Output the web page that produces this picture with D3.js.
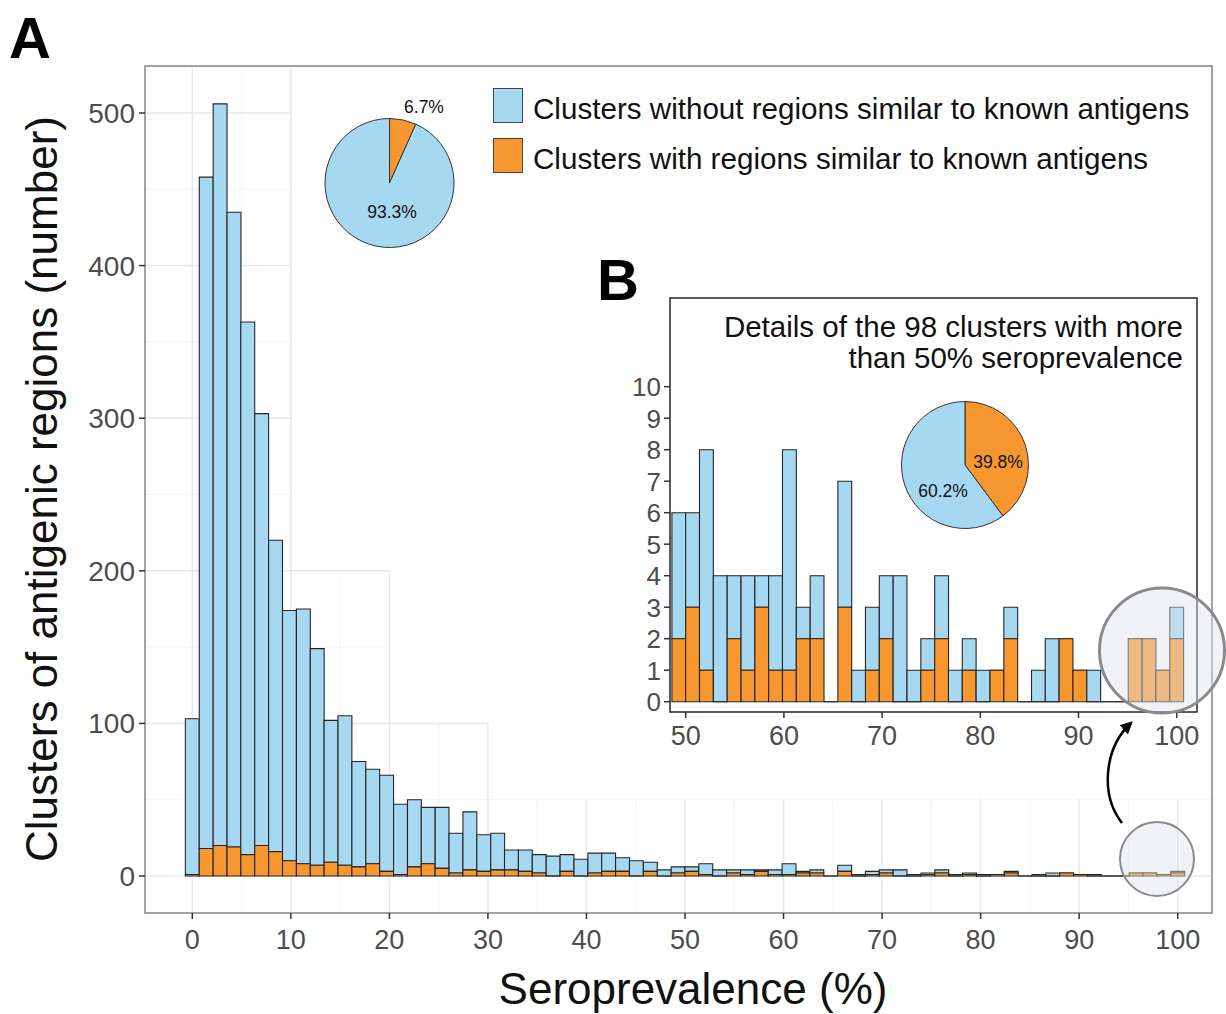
<!DOCTYPE html>
<html>
<head>
<meta charset="utf-8">
<script src="https://cdn.jsdelivr.net/npm/d3@7/dist/d3.min.js"></script>
<style>
  body { margin: 0; background: #fff; }
  text { font-family: "Liberation Sans", Arial, sans-serif; }
</style>
</head>
<body>
<script>
// histogram bins (seroprevalence %, bin centres)
var binCenters = [0, 1.41, 2.82, 4.23, 5.63, 7.04, 8.45, 9.86, 11.27, 12.68,
  14.08, 15.49, 16.90, 18.31, 19.72, 21.13, 22.54, 23.94, 25.35, 26.76,
  28.17, 29.58, 30.99, 32.39, 33.80, 35.21, 36.62, 38.03, 39.44, 40.85,
  42.25, 43.66, 45.07, 46.48, 47.89, 49.30, 50.70, 52.11, 53.52, 54.93,
  56.34, 57.75, 59.15, 60.56, 61.97, 63.38, 64.79, 66.20, 67.61, 69.01,
  70.42, 71.83, 73.24, 74.65, 76.06, 77.46, 78.87, 80.28, 81.69, 83.10,
  84.51, 85.92, 87.32, 88.73, 90.14, 91.55, 92.96, 94.37, 95.77, 97.18,
  98.59, 100];
var binWidth = 1.408;

// clusters without regions similar to known antigens (blue)
var withoutAntigen = [102, 440, 486, 416, 349, 283, 204, 164, 167, 142,
  93, 98, 69, 62, 63, 46, 44, 37, 40, 26,
  38, 24, 24, 13, 14, 12, 13, 11, 11, 13,
  12, 9, 10, 6, 4, 4, 3, 7, 4, 2,
  3, 1, 3, 7, 1, 2, 0, 4, 1, 2,
  2, 4, 1, 1, 2, 1, 1, 1, 0, 1,
  0, 1, 2, 0, 0, 1, 0, 0, 0, 0,
  0, 1];
// clusters with regions similar to known antigens (orange)
var withAntigen = [1, 18, 20, 19, 14, 20, 16, 10, 8, 7,
  9, 7, 6, 8, 3, 1, 6, 8, 5, 2,
  4, 3, 4, 4, 3, 2, 0, 3, 0, 2,
  3, 3, 0, 3, 0, 2, 3, 1, 0, 2,
  1, 3, 1, 1, 2, 2, 0, 3, 0, 1,
  2, 0, 0, 1, 2, 0, 1, 0, 1, 2,
  0, 0, 0, 2, 1, 0, 0, 0, 2, 2,
  1, 2];

var yTicks = [0, 100, 200, 300, 400, 500];
var yMinor = [50, 150, 250, 350, 450];
var xTicks = [0, 10, 20, 30, 40, 50, 60, 70, 80, 90, 100];
var xMinor = [5, 15, 25, 35, 45, 55, 65, 75, 85, 95];
var insetXTicks = [50, 60, 70, 80, 90, 100];
var insetYTicks = [0, 1, 2, 3, 4, 5, 6, 7, 8, 9, 10];
var insetFirstBin = 35;

var mainPie = [6.7, 93.3];     // with, without
var insetPie = [39.8, 60.2];   // with, without
var legendLabels = ["Clusters without regions similar to known antigens",
                    "Clusters with regions similar to known antigens"];
var insetTitle = ["Details of the 98 clusters with more", "than 50% seroprevalence"];

var blue = "#a7d8f1", orange = "#f7972f", barStroke = "#262626";

var width = 1226, height = 1014;
var panel = { left: 145, top: 66, right: 1212, bottom: 913 };

var svg = d3.select("body").append("svg")
    .attr("width", width)
    .attr("height", height);

svg.append("rect").attr("width", width).attr("height", height).attr("fill", "#fff");

var x = d3.scaleLinear().domain([0, 100]).range([192.3, 1177.7]);
var y = d3.scaleLinear().domain([0, 500]).range([876, 113]);

// grid
var grid = svg.append("g");
grid.selectAll(".gmx").data(xMinor).enter().append("line")
    .attr("x1", d => x(d)).attr("x2", d => x(d))
    .attr("y1", panel.top).attr("y2", panel.bottom)
    .attr("stroke", "#f0f0f0").attr("stroke-width", 0.8);
grid.selectAll(".gmy").data(yMinor).enter().append("line")
    .attr("x1", panel.left).attr("x2", panel.right)
    .attr("y1", d => y(d)).attr("y2", d => y(d))
    .attr("stroke", "#f0f0f0").attr("stroke-width", 0.8);
grid.selectAll(".gx").data(xTicks).enter().append("line")
    .attr("x1", d => x(d)).attr("x2", d => x(d))
    .attr("y1", panel.top).attr("y2", panel.bottom)
    .attr("stroke", "#e8e8e8").attr("stroke-width", 1.5);
grid.selectAll(".gy").data(yTicks).enter().append("line")
    .attr("x1", panel.left).attr("x2", panel.right)
    .attr("y1", d => y(d)).attr("y2", d => y(d))
    .attr("stroke", "#e8e8e8").attr("stroke-width", 1.5);

// white backgrounds of the overlaid legend / inset (staircase)
[[10, 200], [20, 100], [30, 50]].forEach(function (c) {
  svg.append("rect")
      .attr("x", x(c[0]) + 1).attr("y", panel.top)
      .attr("width", panel.right - x(c[0]) - 1)
      .attr("height", y(c[1]) - panel.top - 1)
      .attr("fill", "#fff");
});

function barPath(x0, x1, y0, y1) {
  return "M" + x0 + "," + y0 + "V" + y1 + "H" + x1 + "V" + y0 + "Z";
}

function drawBars(g, xs, ys, start) {
  for (var i = start; i < binCenters.length; i++) {
    var x0 = xs(binCenters[i] - binWidth / 2), x1 = xs(binCenters[i] + binWidth / 2);
    var o = withAntigen[i], b = withoutAntigen[i];
    g.append("path")
        .attr("d", barPath(x0, x1, ys(o), ys(o + b)))
        .attr("fill", blue).attr("stroke", barStroke).attr("stroke-width", 1.1);
    g.append("path")
        .attr("d", barPath(x0, x1, ys(0), ys(o)))
        .attr("fill", orange).attr("stroke", barStroke).attr("stroke-width", 1.1);
  }
}

drawBars(svg.append("g"), x, y, 0);

// panel border
svg.append("rect")
    .attr("x", panel.left).attr("y", panel.top)
    .attr("width", panel.right - panel.left).attr("height", panel.bottom - panel.top)
    .attr("fill", "none").attr("stroke", "#8c8c8c").attr("stroke-width", 1.6);

// axes
svg.selectAll(".yt").data(yTicks).enter().append("line")
    .attr("x1", panel.left - 6).attr("x2", panel.left)
    .attr("y1", d => y(d)).attr("y2", d => y(d))
    .attr("stroke", "#333").attr("stroke-width", 1.5);
svg.selectAll(".yl").data(yTicks).enter().append("text")
    .attr("x", panel.left - 10).attr("y", d => y(d)).attr("dy", "0.36em")
    .attr("text-anchor", "end").attr("font-size", 28).attr("fill", "#4d4d4d")
    .text(d => d);
svg.selectAll(".xt").data(xTicks).enter().append("line")
    .attr("x1", d => x(d)).attr("x2", d => x(d))
    .attr("y1", panel.bottom).attr("y2", panel.bottom + 6)
    .attr("stroke", "#333").attr("stroke-width", 1.5);
svg.selectAll(".xl").data(xTicks).enter().append("text")
    .attr("x", d => x(d)).attr("y", 949)
    .attr("text-anchor", "middle").attr("font-size", 27).attr("fill", "#4d4d4d")
    .text(d => d);

svg.append("text")
    .attr("x", 693).attr("y", 1004)
    .attr("text-anchor", "middle").attr("font-size", 44).attr("fill", "#111")
    .text("Seroprevalence (%)");
svg.append("text")
    .attr("transform", "translate(57,489) rotate(-90)")
    .attr("text-anchor", "middle").attr("font-size", 44).attr("fill", "#111")
    .text("Clusters of antigenic regions (number)");

// panel letters
svg.append("text").attr("x", 9).attr("y", 58)
    .attr("font-size", 58).attr("font-weight", "bold").attr("fill", "#000").text("A");
svg.append("text").attr("x", 597).attr("y", 300)
    .attr("font-size", 58).attr("font-weight", "bold").attr("fill", "#000").text("B");

// legend
var legend = svg.append("g");
legendLabels.forEach(function (lab, i) {
  legend.append("rect")
      .attr("x", 493.5).attr("y", 88.5 + i * 50).attr("width", 29).attr("height", 34)
      .attr("fill", i === 0 ? blue : orange).attr("stroke", "#444").attr("stroke-width", 1);
  legend.append("text")
      .attr("x", 533).attr("y", 119 + i * 50)
      .attr("font-size", 29.6).attr("fill", "#111").text(lab);
});

// pies
function drawPie(cx, cy, r, values, labels) {
  var g = svg.append("g").attr("transform", "translate(" + cx + "," + cy + ")");
  var arcs = d3.pie().sort(null)(values);
  var arc = d3.arc().innerRadius(0).outerRadius(r);
  g.selectAll("path").data(arcs).enter().append("path")
      .attr("d", arc)
      .attr("fill", (d, i) => i === 0 ? orange : blue)
      .attr("stroke", "#333").attr("stroke-width", 1);
  labels.forEach(function (l, i) {
    g.append("text").attr("x", l[0]).attr("y", l[1])
        .attr("text-anchor", "middle").attr("font-size", 17.5).attr("fill", "#111")
        .text(values[i].toFixed(1) + "%");
  });
}
drawPie(389.5, 183, 64.5, mainPie, [[34.5, -70], [2.5, 35]]);

// inset B
var inset = { left: 670, top: 298, right: 1197, bottom: 712 };
var xi = d3.scaleLinear().domain([50, 100]).range([685.7, 1176.7]);
var yi = d3.scaleLinear().domain([0, 10]).range([701.7, 386.7]);

svg.append("rect")
    .attr("x", inset.left).attr("y", inset.top)
    .attr("width", inset.right - inset.left).attr("height", inset.bottom - inset.top)
    .attr("fill", "#fff").attr("stroke", "#333").attr("stroke-width", 1.6);

drawBars(svg.append("g"), xi, yi, insetFirstBin);

svg.selectAll(".iyt").data(insetYTicks).enter().append("line")
    .attr("x1", inset.left - 6).attr("x2", inset.left)
    .attr("y1", d => yi(d)).attr("y2", d => yi(d))
    .attr("stroke", "#333").attr("stroke-width", 1.5);
svg.selectAll(".iyl").data(insetYTicks).enter().append("text")
    .attr("x", inset.left - 9).attr("y", d => yi(d)).attr("dy", "0.36em")
    .attr("text-anchor", "end").attr("font-size", 26).attr("fill", "#4d4d4d")
    .text(d => d);
svg.selectAll(".ixt").data(insetXTicks).enter().append("line")
    .attr("x1", d => xi(d)).attr("x2", d => xi(d))
    .attr("y1", inset.bottom).attr("y2", inset.bottom + 6)
    .attr("stroke", "#333").attr("stroke-width", 1.5);
svg.selectAll(".ixl").data(insetXTicks).enter().append("text")
    .attr("x", d => xi(d)).attr("y", 745)
    .attr("text-anchor", "middle").attr("font-size", 27).attr("fill", "#4d4d4d")
    .text(d => d);

insetTitle.forEach(function (t, i) {
  svg.append("text").attr("x", 1183).attr("y", 337 + i * 31)
      .attr("text-anchor", "end").attr("font-size", 29.5).attr("fill", "#111").text(t);
});

drawPie(965, 465, 63.5, insetPie, [[33, 3], [-22, 32]]);

// highlight circles and arrow
svg.append("circle").attr("cx", 1162).attr("cy", 650.5).attr("r", 62.5)
    .attr("fill", "#dde2e8").attr("fill-opacity", 0.45)
    .attr("stroke", "#8a8a8a").attr("stroke-width", 3);
svg.append("circle").attr("cx", 1157).attr("cy", 859).attr("r", 37)
    .attr("fill", "#dde2e8").attr("fill-opacity", 0.45)
    .attr("stroke", "#8a8a8a").attr("stroke-width", 2);

svg.append("defs").append("marker")
    .attr("id", "head").attr("viewBox", "0 0 10 10")
    .attr("refX", 8).attr("refY", 5)
    .attr("markerWidth", 5).attr("markerHeight", 5)
    .attr("orient", "auto")
    .append("path").attr("d", "M0,0L10,5L0,10Z").attr("fill", "#000");
svg.append("path")
    .attr("d", "M1122,823C1100,795 1104,748 1131,723")
    .attr("fill", "none").attr("stroke", "#000").attr("stroke-width", 2.5)
    .attr("marker-end", "url(#head)");
</script>
</body>
</html>
